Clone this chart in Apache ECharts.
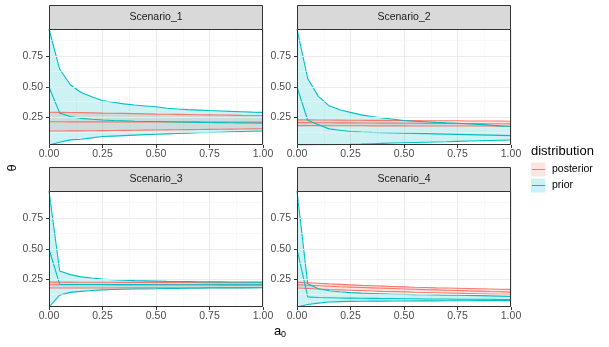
<!DOCTYPE html>
<html>
<head>
<meta charset="utf-8">
<script src="https://cdn.jsdelivr.net/npm/echarts@6/dist/echarts.min.js"></script>
<style>
html, body { margin: 0; padding: 0; background: #fff; }
#chart { width: 609px; height: 347px; }
</style>
</head>
<body>
<div id="chart"></div>
<script>
// a0 grid
var a0 = [0, 0.05, 0.1, 0.15, 0.2, 0.25, 0.3, 0.35, 0.4, 0.45, 0.5,
	0.55, 0.6, 0.65, 0.7, 0.75, 0.8, 0.85, 0.9, 0.95, 1];

var scenarios = ['Scenario_1', 'Scenario_2', 'Scenario_3', 'Scenario_4'];
var distributions = ['posterior', 'prior'];

var xTicks = [0, 0.25, 0.5, 0.75, 1];
var yTicks = [0.25, 0.5, 0.75];
var yMinorTicks = [0.125, 0.375, 0.625, 0.875];

// Scenario_1
var s1PriorLo = [0.025, 0.048, 0.067, 0.072, 0.083, 0.094, 0.098, 0.102, 0.106, 0.110, 0.113, 0.116, 0.119, 0.122, 0.125, 0.127, 0.130, 0.133, 0.136, 0.138, 0.140];
var s1PriorMid = [0.5, 0.286, 0.258, 0.243, 0.236, 0.230, 0.226, 0.223, 0.220, 0.218, 0.217, 0.215, 0.213, 0.212, 0.210, 0.209, 0.208, 0.207, 0.206, 0.205, 0.204];
var s1PriorHi = [0.975, 0.645, 0.518, 0.455, 0.420, 0.390, 0.375, 0.362, 0.352, 0.345, 0.338, 0.326, 0.320, 0.315, 0.311, 0.307, 0.304, 0.300, 0.297, 0.294, 0.292];
var s1PostLo = [0.140, 0.140, 0.141, 0.141, 0.142, 0.143, 0.144, 0.145, 0.146, 0.147, 0.148, 0.149, 0.150, 0.151, 0.152, 0.153, 0.154, 0.155, 0.156, 0.157, 0.158];
var s1PostMid = [0.215, 0.215, 0.214, 0.215, 0.214, 0.214, 0.215, 0.214, 0.214, 0.215, 0.214, 0.214, 0.214, 0.213, 0.214, 0.213, 0.213, 0.213, 0.213, 0.212, 0.212];
var s1PostHi = [0.293, 0.292, 0.291, 0.290, 0.288, 0.286, 0.285, 0.284, 0.282, 0.280, 0.278, 0.277, 0.276, 0.275, 0.273, 0.272, 0.271, 0.270, 0.268, 0.267, 0.266];

// Scenario_2
var s2PriorLo = [0.025, 0.026, 0.027, 0.028, 0.029, 0.030, 0.032, 0.035, 0.038, 0.041, 0.044, 0.046, 0.048, 0.050, 0.052, 0.055, 0.058, 0.060, 0.062, 0.064, 0.066];
var s2PriorMid = [0.5, 0.228, 0.190, 0.157, 0.146, 0.135, 0.131, 0.128, 0.126, 0.124, 0.122, 0.120, 0.118, 0.116, 0.114, 0.112, 0.110, 0.108, 0.106, 0.104, 0.102];
var s2PriorHi = [0.975, 0.570, 0.423, 0.346, 0.313, 0.292, 0.272, 0.258, 0.246, 0.236, 0.226, 0.220, 0.215, 0.210, 0.206, 0.203, 0.199, 0.194, 0.188, 0.182, 0.176];
var s2PostLo = [0.184, 0.184, 0.184, 0.183, 0.183, 0.183, 0.183, 0.182, 0.182, 0.182, 0.182, 0.181, 0.181, 0.181, 0.181, 0.180, 0.180, 0.180, 0.180, 0.179, 0.179];
var s2PostMid = [0.208, 0.208, 0.207, 0.207, 0.206, 0.206, 0.205, 0.205, 0.204, 0.204, 0.203, 0.203, 0.202, 0.202, 0.201, 0.201, 0.200, 0.200, 0.199, 0.199, 0.198];
var s2PostHi = [0.231, 0.231, 0.230, 0.230, 0.229, 0.228, 0.228, 0.227, 0.227, 0.226, 0.226, 0.225, 0.224, 0.224, 0.223, 0.223, 0.222, 0.222, 0.221, 0.221, 0.220];

// Scenario_3
var s3PriorLo = [0.025, 0.122, 0.145, 0.153, 0.160, 0.165, 0.168, 0.170, 0.172, 0.173, 0.174, 0.176, 0.177, 0.178, 0.179, 0.180, 0.181, 0.181, 0.182, 0.182, 0.183];
var s3PriorMid = [0.5, 0.210, 0.209, 0.209, 0.209, 0.209, 0.208, 0.208, 0.208, 0.208, 0.207, 0.207, 0.207, 0.207, 0.207, 0.207, 0.206, 0.206, 0.206, 0.206, 0.206];
var s3PriorHi = [0.975, 0.320, 0.290, 0.272, 0.262, 0.253, 0.248, 0.244, 0.241, 0.239, 0.237, 0.235, 0.234, 0.233, 0.232, 0.231, 0.231, 0.230, 0.230, 0.229, 0.229];
var s3PostLo = [0.180, 0.180, 0.180, 0.181, 0.181, 0.181, 0.181, 0.182, 0.182, 0.182, 0.182, 0.183, 0.183, 0.183, 0.183, 0.184, 0.184, 0.184, 0.184, 0.185, 0.185];
var s3PostMid = [0.207, 0.207, 0.207, 0.207, 0.207, 0.207, 0.207, 0.207, 0.207, 0.207, 0.207, 0.207, 0.207, 0.207, 0.207, 0.207, 0.207, 0.207, 0.207, 0.207, 0.207];
var s3PostHi = [0.229, 0.229, 0.229, 0.228, 0.228, 0.228, 0.228, 0.227, 0.227, 0.227, 0.227, 0.226, 0.226, 0.226, 0.226, 0.225, 0.225, 0.225, 0.225, 0.224, 0.224];

// Scenario_4
var s4PriorLo = [0.025, 0.046, 0.057, 0.066, 0.069, 0.071, 0.072, 0.073, 0.073, 0.074, 0.074, 0.075, 0.075, 0.075, 0.076, 0.076, 0.076, 0.077, 0.077, 0.077, 0.077];
var s4PriorMid = [0.5, 0.108, 0.103, 0.101, 0.099, 0.098, 0.097, 0.096, 0.095, 0.094, 0.093, 0.092, 0.091, 0.091, 0.090, 0.089, 0.089, 0.088, 0.088, 0.087, 0.087];
var s4PriorHi = [0.975, 0.215, 0.175, 0.158, 0.150, 0.143, 0.139, 0.136, 0.133, 0.130, 0.128, 0.126, 0.125, 0.124, 0.122, 0.121, 0.119, 0.118, 0.116, 0.114, 0.112];
var s4PostLo = [0.180, 0.176, 0.172, 0.168, 0.165, 0.162, 0.159, 0.156, 0.153, 0.151, 0.149, 0.146, 0.144, 0.142, 0.140, 0.138, 0.136, 0.134, 0.132, 0.130, 0.128];
var s4PostMid = [0.207, 0.203, 0.199, 0.195, 0.191, 0.188, 0.185, 0.182, 0.179, 0.176, 0.173, 0.170, 0.167, 0.165, 0.162, 0.160, 0.157, 0.155, 0.152, 0.150, 0.147];
var s4PostHi = [0.229, 0.224, 0.219, 0.214, 0.210, 0.206, 0.202, 0.199, 0.196, 0.193, 0.190, 0.187, 0.185, 0.182, 0.180, 0.178, 0.176, 0.174, 0.172, 0.170, 0.169];

var priorLo = [s1PriorLo, s2PriorLo, s3PriorLo, s4PriorLo];
var priorMid = [s1PriorMid, s2PriorMid, s3PriorMid, s4PriorMid];
var priorHi = [s1PriorHi, s2PriorHi, s3PriorHi, s4PriorHi];
var postLo = [s1PostLo, s2PostLo, s3PostLo, s4PostLo];
var postMid = [s1PostMid, s2PostMid, s3PostMid, s4PostMid];
var postHi = [s1PostHi, s2PostHi, s3PostHi, s4PostHi];

var font = '"Liberation Sans", Arial, sans-serif';
var colPost = '#F8766D', colPrior = '#00BFC4';
var fillPost = 'rgba(248,118,109,0.2)', fillPrior = 'rgba(0,191,196,0.2)';

// panel layout (plot area)
var panelW = 214, panelH = 116, stripH = 24;
var panelPos = [[49, 29], [297, 29], [49, 191], [297, 191]];

function pairs(ys) {
	return a0.map(function(x, k) { return [x, ys[k]]; });
}

function ribbon(i, name, lo, hi, fill) {
	return {
		type : 'custom', name : name, xAxisIndex : i, yAxisIndex : i,
		z : 2, silent : true, clip : true,
		data : [[a0[0], lo[0]]],
		renderItem : function(params, api) {
			var pts = [], k;
			for (k = 0; k < a0.length; k++) pts.push(api.coord([a0[k], hi[k]]));
			for (k = a0.length - 1; k >= 0; k--) pts.push(api.coord([a0[k], lo[k]]));
			return { type : 'polygon', shape : { points : pts }, style : { fill : fill } };
		}
	};
}

function line(i, name, ys, color) {
	return {
		type : 'line', name : name, xAxisIndex : i, yAxisIndex : i,
		z : 3, silent : true, symbol : 'none', data : pairs(ys),
		lineStyle : { color : color, width : 1.1 }
	};
}

var grids = [], xAxes = [], yAxes = [], series = [], graphics = [];

for (var i = 0; i < 4; i++) {
	var L = panelPos[i][0], T = panelPos[i][1];
	grids.push({ left : L, top : T, width : panelW, height : panelH, show : true,
		backgroundColor : '#fff', borderWidth : 0 });
	xAxes.push({
		gridIndex : i, type : 'value', min : 0, max : 1, interval : 0.25,
		axisLine : { show : false },
		axisTick : { length : 3, lineStyle : { color : '#333' } },
		axisLabel : { color : '#4d4d4d', fontSize : 10.5, fontFamily : font, margin : 4,
			showMinLabel : true, showMaxLabel : true,
			formatter : function(v) { return v.toFixed(2); } },
		splitLine : { show : true, lineStyle : { color : '#ebebeb', width : 1 } },
		minorTick : { show : false, splitNumber : 2 },
		minorSplitLine : { show : true, lineStyle : { color : '#f4f4f4', width : 0.6 } }
	});
	yAxes.push({
		gridIndex : i, type : 'value', min : 0.025, max : 0.975,
		axisLine : { show : false },
		axisTick : { length : 3, customValues : yTicks, lineStyle : { color : '#333' } },
		axisLabel : { color : '#4d4d4d', fontSize : 10.5, fontFamily : font, margin : 6,
			customValues : yTicks,
			formatter : function(v) { return v.toFixed(2); } },
		splitLine : { show : false }
	});

	// y grid lines
	var ml = [];
	yMinorTicks.forEach(function(v) {
		ml.push({ yAxis : v, lineStyle : { color : '#f4f4f4', width : 0.6, type : 'solid' } });
	});
	yTicks.forEach(function(v) {
		ml.push({ yAxis : v, lineStyle : { color : '#ebebeb', width : 1, type : 'solid' } });
	});
	series.push({
		type : 'line', xAxisIndex : i, yAxisIndex : i, data : [], z : 1, silent : true,
		markLine : { silent : true, symbol : ['none', 'none'], label : { show : false },
			animation : false, data : ml }
	});

	series.push(ribbon(i, 'posterior', postLo[i], postHi[i], fillPost));
	series.push(ribbon(i, 'prior', priorLo[i], priorHi[i], fillPrior));
	series.push(line(i, 'posterior', postLo[i], colPost));
	series.push(line(i, 'posterior', postMid[i], colPost));
	series.push(line(i, 'posterior', postHi[i], colPost));
	series.push(line(i, 'prior', priorLo[i], colPrior));
	series.push(line(i, 'prior', priorMid[i], colPrior));
	series.push(line(i, 'prior', priorHi[i], colPrior));

	// panel border + strip
	graphics.push({ type : 'rect', z : 100, silent : true,
		shape : { x : L + 0.5, y : T + 0.5, width : panelW - 1, height : panelH - 1 },
		style : { fill : 'none', stroke : '#333', lineWidth : 1 } });
	graphics.push({ type : 'rect', z : 100, silent : true,
		shape : { x : L + 0.5, y : T - stripH + 0.5, width : panelW - 1, height : stripH },
		style : { fill : '#d9d9d9', stroke : '#333', lineWidth : 1 } });
	graphics.push({ type : 'text', z : 101, silent : true,
		x : L + panelW / 2, y : T - stripH / 2 + 0.5,
		style : { text : scenarios[i], fill : '#1a1a1a', font : '10.5px ' + font,
			align : 'center', verticalAlign : 'middle' } });
}

// axis titles
graphics.push({ type : 'text', z : 100, x : 12, y : 168, rotation : Math.PI / 2,
	style : { text : 'θ', fill : '#000', font : '13px ' + font, align : 'center', verticalAlign : 'middle' } });
graphics.push({ type : 'text', z : 100, x : 280, y : 331,
	style : { text : '{a|a}{s|0}', fill : '#000', align : 'center', verticalAlign : 'middle',
		rich : { a : { fontSize : 13, fontFamily : font }, s : { fontSize : 9, fontFamily : font, padding : [7, 0, 0, 0] } } } });

// legend title and key lines
graphics.push({ type : 'text', z : 100, x : 531, y : 151.5,
	style : { text : 'distribution', fill : '#000', font : '13px ' + font, verticalAlign : 'middle' } });
graphics.push({ type : 'line', z : 100, silent : true,
	shape : { x1 : 532, y1 : 169.5, x2 : 545, y2 : 169.5 }, style : { stroke : colPost, lineWidth : 1 } });
graphics.push({ type : 'line', z : 100, silent : true,
	shape : { x1 : 532, y1 : 185.5, x2 : 545, y2 : 185.5 }, style : { stroke : colPrior, lineWidth : 1 } });

var chart = echarts.init(document.getElementById('chart'));
chart.setOption({
	animation : false,
	backgroundColor : '#fff',
	grid : grids,
	xAxis : xAxes,
	yAxis : yAxes,
	legend : {
		orient : 'vertical', left : 531, top : 162.5, padding : 0,
		itemWidth : 14, itemHeight : 14, itemGap : 2, selectedMode : false,
		textStyle : { fontSize : 10.5, fontFamily : font, color : '#000', padding : [0, 0, 0, 2] },
		data : [
			{ name : distributions[0], icon : 'rect', itemStyle : { color : fillPost, borderWidth : 0 } },
			{ name : distributions[1], icon : 'rect', itemStyle : { color : fillPrior, borderWidth : 0 } }
		]
	},
	graphic : { elements : graphics },
	series : series
});
</script>
</body>
</html>
